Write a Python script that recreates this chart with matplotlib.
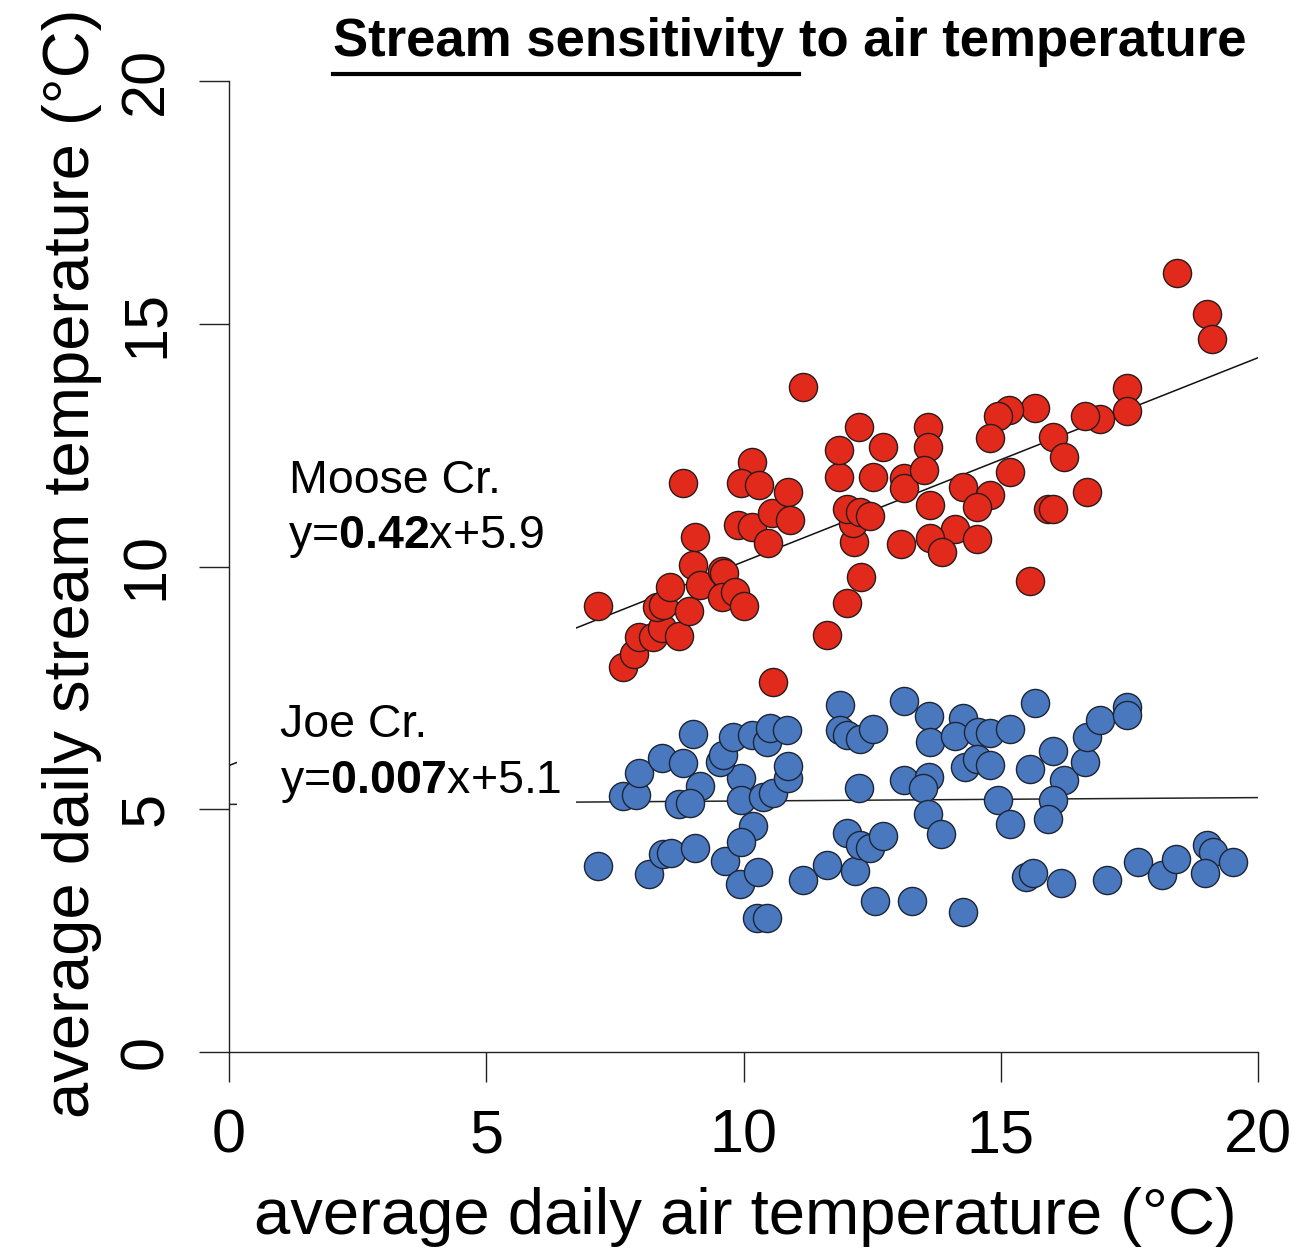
import matplotlib
matplotlib.use("Agg")
import matplotlib.pyplot as plt
from matplotlib.patches import Rectangle
from matplotlib.lines import Line2D
import numpy as np

plt.rcParams['font.family'] = ['Liberation Sans', 'DejaVu Sans']
plt.rcParams['mathtext.fontset'] = 'custom'
plt.rcParams['mathtext.rm'] = 'Liberation Sans'
plt.rcParams['mathtext.bf'] = 'Liberation Sans:bold'

# Moose Cr. (red) - air temp vs stream temp
moose_air = [7.18, 7.65, 7.87, 7.97, 8.24, 8.41, 8.75, 8.32, 8.44, 8.57,
             8.95, 9.06, 8.83, 9.02, 9.15, 9.58, 9.62, 9.58, 9.83, 10.00,
             9.90, 10.16, 10.16, 9.96, 10.31, 10.47, 10.55, 10.87, 10.90, 11.15,
             10.58, 11.62, 12.01, 12.28, 12.15, 12.12, 12.02, 12.26, 12.46, 11.86,
             11.86, 12.25, 12.72, 12.52, 13.11, 13.11, 13.07, 18.42, 19.01, 19.11,
             17.45, 17.45, 16.93, 16.64, 16.01, 16.22, 15.67, 15.17, 14.95, 14.79,
             15.18, 16.68, 15.92, 16.02, 15.57, 13.59, 13.59, 13.51, 13.62, 14.27,
             14.79, 14.53, 14.11, 14.54, 13.62, 13.85]
moose_stream = [9.19, 7.94, 8.20, 8.55, 8.55, 8.73, 8.57, 9.16, 9.21, 9.58,
                9.09, 10.61, 11.73, 10.03, 9.62, 9.91, 9.87, 9.38, 9.48, 9.19,
                10.85, 10.82, 12.16, 11.73, 11.68, 10.49, 11.10, 11.54, 10.96, 13.69,
                7.63, 8.59, 9.25, 9.78, 10.51, 10.89, 11.18, 11.13, 11.03, 11.85,
                12.39, 12.88, 12.46, 11.85, 11.82, 11.61, 10.46, 16.04, 15.20, 14.68,
                13.67, 13.20, 13.03, 13.10, 12.67, 12.25, 13.26, 13.22, 13.09, 12.64,
                11.95, 11.54, 11.18, 11.18, 9.71, 12.88, 12.47, 11.99, 11.27, 11.64,
                11.47, 11.23, 10.77, 10.56, 10.58, 10.30]

# Joe Cr. (blue)
joe_air = [7.18, 7.66, 7.92, 7.96, 8.41, 8.83, 9.02, 9.15, 8.75, 8.96,
           8.17, 8.44, 8.60, 9.06, 9.64, 9.93, 10.29, 10.18, 9.96, 9.96,
           9.96, 10.38, 10.58, 10.87, 10.87, 9.54, 9.61, 9.80, 10.16, 10.45,
           10.52, 10.84, 10.26, 10.45, 11.15, 11.62, 12.17, 12.01, 12.26, 12.46,
           12.72, 12.25, 11.88, 11.88, 12.01, 12.26, 12.52, 13.11, 13.11, 12.56,
           13.27, 13.61, 13.62, 14.26, 14.11, 14.56, 14.79, 15.18, 15.67, 14.31,
           14.54, 14.79, 13.61, 13.49, 13.59, 13.83, 14.95, 15.18, 15.57, 16.01,
           16.22, 16.02, 15.92, 16.64, 16.68, 16.93, 17.45, 17.45, 14.27, 15.50,
           15.62, 16.18, 17.06, 17.67, 18.13, 18.41, 19.01, 19.13, 18.97, 19.51]
joe_stream = [3.83, 5.27, 5.29, 5.74, 6.06, 5.95, 6.55, 5.48, 5.11, 5.12,
              3.67, 4.08, 4.10, 4.20, 3.94, 3.46, 3.71, 4.65, 4.33, 5.64,
              5.19, 5.26, 5.33, 5.64, 5.89, 5.98, 6.12, 6.48, 6.53, 6.39,
              6.67, 6.63, 2.77, 2.75, 3.54, 3.85, 3.73, 4.52, 4.26, 4.20,
              4.45, 5.43, 7.15, 6.63, 6.53, 6.44, 6.65, 7.22, 5.60, 3.12,
              3.12, 6.92, 6.39, 6.87, 6.51, 6.60, 6.58, 6.65, 7.19, 5.86,
              6.03, 5.91, 5.67, 5.43, 4.90, 4.49, 5.20, 4.70, 5.82, 6.19,
              5.60, 5.20, 4.79, 5.98, 6.48, 6.84, 7.11, 6.94, 2.89, 3.61,
              3.68, 3.49, 3.54, 3.92, 3.65, 3.97, 4.26, 4.11, 3.69, 3.91]

# fitted lines: slope, intercept
moose_fit = (0.42, 5.9)
joe_fit = (0.007, 5.1)

ticks = [0, 5, 10, 15, 20]

fig = plt.figure(figsize=(13, 12.6), dpi=100)
ax = fig.add_axes([229/1300, 1-1052/1260, (1258-229)/1300, (1052-81)/1260])
ax.set_xlim(0, 20)
ax.set_ylim(0, 20)

xx = np.array([0, 20])
ax.plot(xx, moose_fit[0]*xx + moose_fit[1], color='#111111', lw=1.1, zorder=2)
ax.plot(xx, joe_fit[0]*xx + joe_fit[1], color='#222222', lw=1.1, zorder=2)

# white text box from the original slide hides the start of the lines
ax.add_patch(Rectangle((0.15, 4.0), 6.6, 6.5, facecolor='white',
                       edgecolor='none', zorder=3))

ax.scatter(moose_air, moose_stream, s=410, c='#E22A1C', edgecolors='#2a1a1a',
           linewidths=1.0, zorder=4)
ax.scatter(joe_air, joe_stream, s=410, c='#4A78BE', edgecolors='#1c2535',
           linewidths=1.0, zorder=4)

for s in ['top', 'right']:
    ax.spines[s].set_visible(False)
ax.spines['left'].set_bounds(0, 20)
ax.spines['bottom'].set_bounds(0, 20)
for s in ['left', 'bottom']:
    ax.spines[s].set_linewidth(1.0)
    ax.spines[s].set_color('#222222')

ax.set_xticks(ticks)
ax.set_yticks(ticks)
ax.tick_params(axis='both', direction='out', length=21.6, width=1.0,
               color='#222222', labelsize=44)
ax.tick_params(axis='x', pad=19)
ax.tick_params(axis='y', pad=17)
for lab in ax.get_yticklabels():
    lab.set_rotation(90)
    lab.set_va('center')

fig.text(745/1300, 1-1234/1260, 'average daily air temperature (\u00b0C)',
         ha='center', va='baseline', fontsize=47)
fig.text(72/1300, 1-563/1260, 'average daily stream temperature (\u00b0C)',
         ha='center', va='center', rotation=90, fontsize=47)

# annotations
ax.text(1.17, 11.51, 'Moose Cr.', fontsize=33.5, va='baseline', zorder=5)
ax.text(1.15, 10.38, r'y=$\mathbf{0.42}$x+5.9', fontsize=33.5, va='baseline', zorder=5)
ax.text(0.99, 6.49, 'Joe Cr.', fontsize=33.5, va='baseline', zorder=5)
ax.text(0.99, 5.33, r'y=$\mathbf{0.007}$x+5.1', fontsize=33.5, va='baseline', zorder=5)

# title with underlined first part
renderer = fig.canvas.get_renderer()
t1 = fig.text(333/1300, 1-56/1260, 'Stream sensitivity ', fontsize=38,
              fontweight='bold', va='baseline', ha='left')
bb = t1.get_window_extent(renderer)
fig.text(bb.x1/1300, 1-56/1260, 'to air temperature', fontsize=38,
         fontweight='bold', va='baseline', ha='left')
fig.add_artist(Line2D([bb.x0/1300, bb.x1/1300], [1-74/1260, 1-74/1260],
                      color='black', lw=3.0, transform=fig.transFigure))

fig.savefig('out.png', dpi=100, facecolor='white')
